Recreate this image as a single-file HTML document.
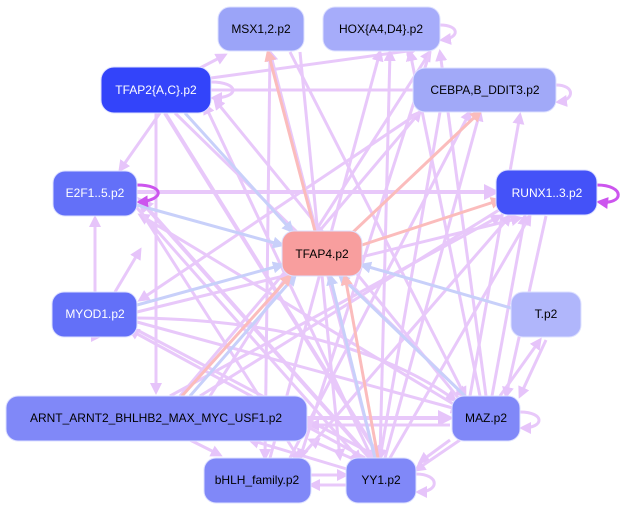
<!DOCTYPE html>
<html><head><style>
body{margin:0;background:#fff;width:626px;height:509px;overflow:hidden}
text{font-family:"Liberation Sans",sans-serif;font-size:12px;text-anchor:middle;dominant-baseline:central}
</style></head><body>
<svg width="626" height="509" viewBox="0 0 626 509">
<defs>
<marker id="p" markerWidth="4" markerHeight="4" refX="3" refY="2" orient="auto" markerUnits="strokeWidth"><path d="M0,0L4,2L0,4z" fill="#e6c4fa"/></marker>
<marker id="b" markerWidth="4" markerHeight="4" refX="3" refY="2" orient="auto" markerUnits="strokeWidth"><path d="M0,0L4,2L0,4z" fill="#c8d0fa"/></marker>
<marker id="r" markerWidth="4" markerHeight="4" refX="3" refY="2" orient="auto" markerUnits="strokeWidth"><path d="M0,0L4,2L0,4z" fill="#fbbcbc"/></marker>
<marker id="d" markerWidth="4" markerHeight="4" refX="3" refY="2" orient="auto" markerUnits="strokeWidth"><path d="M0,0L4,2L0,4z" fill="#cc55ee"/></marker>
</defs>
<g fill="none" stroke="#e8c8fa" stroke-width="3" marker-end="url(#p)">
<path d="M211,90L490,90"/>
<path d="M211,78L415,50"/>
<path d="M200,68L225,55"/>
<path d="M137,192L496,192" stroke-width="4"/>
<path d="M160,113L120,170"/>
<path d="M156,113L156,392"/>
<path d="M165,113L380,458" stroke-width="4"/>
<path d="M175,113L465,396"/>
<path d="M95,292L95,218"/>
<path d="M115,292L140,250"/>
<path d="M137,322L460,410"/>
<path d="M137,330L380,458"/>
<path d="M137,318C300,320 400,360 455,400"/>
<path d="M137,312L520,218"/>
<path d="M94,336L100,336"/>
<path d="M307,418L450,418" stroke-width="4"/>
<path d="M450,425L310,425"/>
<path d="M486,396L440,52"/>
<path d="M492,396L525,216"/>
<path d="M500,396L540,340"/>
<path d="M480,396L410,52"/>
<path d="M460,400L215,100"/>
<path d="M455,405L140,215"/>
<path d="M470,396L520,115"/>
<path d="M380,458L390,52"/>
<path d="M385,458L480,112"/>
<path d="M390,458L530,216"/>
<path d="M375,458L270,52"/>
<path d="M370,458L140,200" stroke-width="4"/>
<path d="M372,458L205,105"/>
<path d="M365,458L130,330"/>
<path d="M360,462L310,440"/>
<path d="M350,470L250,440"/>
<path d="M300,458L510,216"/>
<path d="M290,458L470,112"/>
<path d="M270,458L380,52"/>
<path d="M180,396L420,112"/>
<path d="M170,396L500,216"/>
<path d="M200,396L515,200"/>
<path d="M210,396L430,52"/>
<path d="M130,200L360,460"/>
<path d="M140,210L300,460"/>
<path d="M300,52L340,458"/>
<path d="M290,52L465,396"/>
<path d="M270,52L265,458"/>
<path d="M430,52L300,458"/>
<path d="M420,112L140,300"/>
<path d="M440,112L380,458"/>
<path d="M190,440L220,455"/>
<path d="M450,440L420,462"/>
<path d="M460,440L416,470"/>
<path d="M311,475L346,475"/>
<path d="M346,485L311,485"/>
<path d="M546,340L520,396"/>
<path d="M546,216L506,396"/>
<path d="M556,85C575,85 575,100 558,102"/>
<path d="M440,25C460,25 460,38 442,40"/>
<path d="M211,82C240,82 240,98 213,98"/>
<path d="M520,412C545,412 545,428 522,428"/>
<path d="M416,474C440,474 440,492 418,492"/>
</g>
<g fill="none" stroke="#c8d0fa" stroke-width="3" marker-end="url(#b)">
<path d="M185,113L292,231"/>
<path d="M137,205L282,245"/>
<path d="M137,305L282,265"/>
<path d="M511,308L362,265"/>
<path d="M465,396L340,276"/>
<path d="M375,458L330,276"/>
<path d="M190,396L295,276"/>
</g>
<g fill="none" stroke="#fbbcbc" stroke-width="3" marker-end="url(#r)">
<path d="M315,231L268,52"/>
<path d="M350,235L480,112"/>
<path d="M362,245L500,200"/>
<path d="M378,458L345,276"/>
<path d="M182,396L290,276"/>
</g>
<g fill="none" stroke="#cc55ee" stroke-width="3" marker-end="url(#d)">
<path d="M137,185C165,185 165,200 139,202"/>
<path d="M597,185C625,185 625,205 599,202"/>
</g>
<g stroke="#dde0ff" stroke-width="1">
<rect x="218" y="7" width="86" height="44" rx="12" fill="#9ba4f8"/>
<rect x="323" y="7" width="117" height="44" rx="12" fill="#a6acfa"/>
<rect x="101" y="67" width="110" height="46" rx="13" fill="#3344fa"/>
<rect x="413" y="68" width="143" height="44" rx="12" fill="#a1a9f8"/>
<rect x="53" y="171" width="84" height="45" rx="12" fill="#6370f8"/>
<rect x="496" y="170" width="101" height="45" rx="12" fill="#4452f8"/>
<rect x="282" y="231" width="80" height="45" rx="12" fill="#f89e9e"/>
<rect x="52" y="292" width="85" height="45" rx="12" fill="#6370f8"/>
<rect x="511" y="292" width="70" height="45" rx="12" fill="#b0b6fb"/>
<rect x="6" y="396" width="301" height="45" rx="12" fill="#8088f8"/>
<rect x="452" y="396" width="68" height="45" rx="12" fill="#8088f8"/>
<rect x="204" y="458" width="107" height="45" rx="12" fill="#8088f8"/>
<rect x="346" y="458" width="70" height="45" rx="12" fill="#8088f8"/>
</g>
<text x="261" y="29">MSX1,2.p2</text>
<text x="381" y="29">HOX{A4,D4}.p2</text>
<text x="156" y="90" fill="#fff">TFAP2{A,C}.p2</text>
<text x="485" y="90">CEBPA,B_DDIT3.p2</text>
<text x="95" y="193" fill="#fff">E2F1..5.p2</text>
<text x="547" y="193" fill="#fff">RUNX1..3.p2</text>
<text x="322" y="254">TFAP4.p2</text>
<text x="95" y="314" fill="#fff">MYOD1.p2</text>
<text x="546" y="314">T.p2</text>
<text x="156" y="418">ARNT_ARNT2_BHLHB2_MAX_MYC_USF1.p2</text>
<text x="486" y="418">MAZ.p2</text>
<text x="257" y="480">bHLH_family.p2</text>
<text x="381" y="480">YY1.p2</text>
</svg>
</body></html>
